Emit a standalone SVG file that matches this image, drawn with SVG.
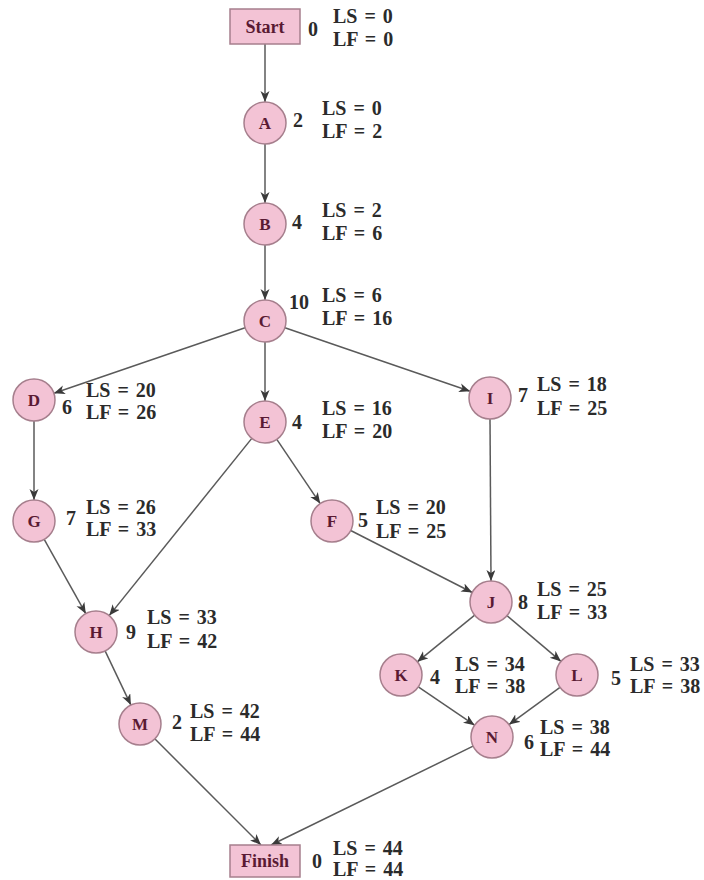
<svg xmlns="http://www.w3.org/2000/svg" width="704" height="880" viewBox="0 0 704 880">
<style>
.bg{fill:#ffffff}
.nd{fill:#f3c3d5;stroke:#a67f8d;stroke-width:1.5}
.nl{font-family:"Liberation Serif","DejaVu Serif",serif;font-weight:bold;font-size:17px;fill:#5a1a33;text-anchor:middle}
.bl{font-family:"Liberation Serif","DejaVu Serif",serif;font-weight:bold;font-size:18px;fill:#5a1a33;text-anchor:middle}
.lb{font-family:"Liberation Serif","DejaVu Serif",serif;font-weight:bold;font-size:20px;word-spacing:2px;fill:#2b2b2b}
.ed{stroke:#5a5a5a;stroke-width:1.5;fill:none;marker-end:url(#ah)}
</style>
<defs>
<marker id="ah" markerUnits="userSpaceOnUse" markerWidth="12" markerHeight="10" refX="11" refY="4.5" orient="auto">
<path d="M0,0 L11,4.5 L0,9 L3,4.5 z" fill="#3a3a3a"/>
</marker>
</defs>
<rect class="bg" x="0" y="0" width="704" height="880"/>
<g id="connectors">
<line class="ed" x1="265" y1="44" x2="265" y2="102"/>
<line class="ed" x1="265" y1="144" x2="265" y2="203"/>
<line class="ed" x1="265" y1="245" x2="265" y2="300"/>
<line class="ed" x1="245.1" y1="327.8" x2="53.9" y2="393.2"/>
<line class="ed" x1="265" y1="342" x2="265" y2="401"/>
<line class="ed" x1="284.9" y1="327.8" x2="470.1" y2="391.2"/>
<line class="ed" x1="34" y1="421" x2="34" y2="500"/>
<line class="ed" x1="251.8" y1="438.4" x2="109.2" y2="615.6"/>
<line class="ed" x1="276.8" y1="439.4" x2="320.2" y2="503.6"/>
<line class="ed" x1="490" y1="419" x2="491" y2="581"/>
<line class="ed" x1="44.2" y1="539.3" x2="85.8" y2="613.7"/>
<line class="ed" x1="350.7" y1="530.5" x2="472.3" y2="592.5"/>
<line class="ed" x1="105.1" y1="650.9" x2="130.9" y2="705.1"/>
<line class="ed" x1="474.7" y1="615.2" x2="417.3" y2="661.8"/>
<line class="ed" x1="507" y1="615.6" x2="561" y2="661.4"/>
<line class="ed" x1="418.3" y1="686.8" x2="474.6" y2="725.2"/>
<line class="ed" x1="560" y1="687.4" x2="509" y2="724.6"/>
<line class="ed" x1="154.8" y1="738.8" x2="261" y2="845"/>
<line class="ed" x1="473.1" y1="746.2" x2="271" y2="845"/>
</g>
<g id="node-Start">
<rect class="nd" x="230" y="9" width="70" height="35"/>
<text class="bl" x="265" y="33">Start</text>
<text class="lb" x="308" y="36">0</text>
<text class="lb" x="333" y="23">LS = 0</text>
<text class="lb" x="333" y="46">LF = 0</text>
</g>
<g id="node-A">
<circle class="nd" cx="265" cy="123" r="21"/>
<text class="nl" x="265" y="129">A</text>
<text class="lb" x="293" y="127">2</text>
<text class="lb" x="322" y="115">LS = 0</text>
<text class="lb" x="322" y="138">LF = 2</text>
</g>
<g id="node-B">
<circle class="nd" cx="265" cy="224" r="21"/>
<text class="nl" x="265" y="230">B</text>
<text class="lb" x="292" y="229">4</text>
<text class="lb" x="322" y="217">LS = 2</text>
<text class="lb" x="322" y="240">LF = 6</text>
</g>
<g id="node-C">
<circle class="nd" cx="265" cy="321" r="21"/>
<text class="nl" x="265" y="327">C</text>
<text class="lb" x="289" y="309">10</text>
<text class="lb" x="322" y="302">LS = 6</text>
<text class="lb" x="322" y="325">LF = 16</text>
</g>
<g id="node-D">
<circle class="nd" cx="34" cy="400" r="21"/>
<text class="nl" x="34" y="406">D</text>
<text class="lb" x="62" y="414">6</text>
<text class="lb" x="86" y="397">LS = 20</text>
<text class="lb" x="86" y="419">LF = 26</text>
</g>
<g id="node-E">
<circle class="nd" cx="265" cy="422" r="21"/>
<text class="nl" x="265" y="428">E</text>
<text class="lb" x="292" y="429">4</text>
<text class="lb" x="322" y="415">LS = 16</text>
<text class="lb" x="322" y="438">LF = 20</text>
</g>
<g id="node-I">
<circle class="nd" cx="490" cy="398" r="21"/>
<text class="nl" x="490" y="404">I</text>
<text class="lb" x="518" y="402">7</text>
<text class="lb" x="537" y="391">LS = 18</text>
<text class="lb" x="537" y="415">LF = 25</text>
</g>
<g id="node-G">
<circle class="nd" cx="34" cy="521" r="21"/>
<text class="nl" x="34" y="527">G</text>
<text class="lb" x="66" y="525">7</text>
<text class="lb" x="86" y="514">LS = 26</text>
<text class="lb" x="86" y="536">LF = 33</text>
</g>
<g id="node-F">
<circle class="nd" cx="332" cy="521" r="21"/>
<text class="nl" x="332" y="527">F</text>
<text class="lb" x="358" y="527">5</text>
<text class="lb" x="376" y="514">LS = 20</text>
<text class="lb" x="376" y="538">LF = 25</text>
</g>
<g id="node-H">
<circle class="nd" cx="96" cy="632" r="21"/>
<text class="nl" x="96" y="638">H</text>
<text class="lb" x="126" y="639">9</text>
<text class="lb" x="147" y="624">LS = 33</text>
<text class="lb" x="147" y="648">LF = 42</text>
</g>
<g id="node-J">
<circle class="nd" cx="491" cy="602" r="21"/>
<text class="nl" x="491" y="608">J</text>
<text class="lb" x="518" y="609">8</text>
<text class="lb" x="537" y="596">LS = 25</text>
<text class="lb" x="537" y="619">LF = 33</text>
</g>
<g id="node-K">
<circle class="nd" cx="401" cy="675" r="21"/>
<text class="nl" x="401" y="681">K</text>
<text class="lb" x="430" y="684">4</text>
<text class="lb" x="455" y="671">LS = 34</text>
<text class="lb" x="455" y="693">LF = 38</text>
</g>
<g id="node-L">
<circle class="nd" cx="577" cy="675" r="21"/>
<text class="nl" x="577" y="681">L</text>
<text class="lb" x="611" y="685">5</text>
<text class="lb" x="630" y="671">LS = 33</text>
<text class="lb" x="630" y="693">LF = 38</text>
</g>
<g id="node-M">
<circle class="nd" cx="140" cy="724" r="21"/>
<text class="nl" x="140" y="730">M</text>
<text class="lb" x="172" y="729">2</text>
<text class="lb" x="190" y="718">LS = 42</text>
<text class="lb" x="190" y="741">LF = 44</text>
</g>
<g id="node-N">
<circle class="nd" cx="492" cy="737" r="21"/>
<text class="nl" x="492" y="743">N</text>
<text class="lb" x="524" y="749">6</text>
<text class="lb" x="540" y="734">LS = 38</text>
<text class="lb" x="540" y="756">LF = 44</text>
</g>
<g id="node-Finish">
<rect class="nd" x="230" y="845" width="70" height="32"/>
<text class="bl" x="265" y="867">Finish</text>
<text class="lb" x="312" y="868">0</text>
<text class="lb" x="333" y="855">LS = 44</text>
<text class="lb" x="333" y="876">LF = 44</text>
</g>
</svg>
